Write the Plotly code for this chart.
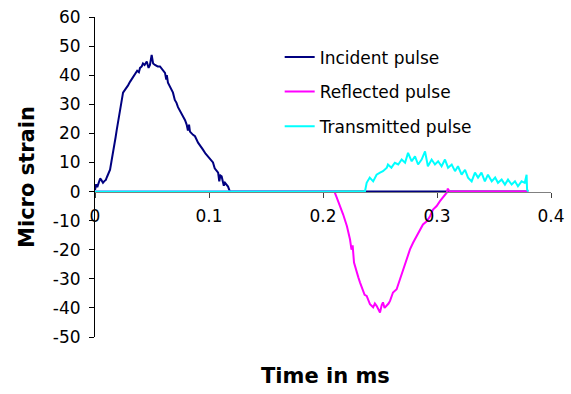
import plotly.graph_objects as go

# ---------------- data ----------------
incident_t = [0.000, 0.001, 0.002, 0.003, 0.0045, 0.0055, 0.007, 0.008, 0.0095, 0.0105,
              0.012, 0.0132, 0.0145, 0.0158, 0.017, 0.018, 0.019, 0.0205, 0.0219, 0.023,
              0.0246, 0.0255, 0.0265, 0.0278, 0.029, 0.0307, 0.032, 0.0335, 0.0351, 0.037,
              0.0385, 0.0395, 0.041, 0.0421, 0.0435, 0.0454, 0.047, 0.0482, 0.0497, 0.051,
              0.0526, 0.055, 0.057, 0.059, 0.0614, 0.0625, 0.063, 0.064, 0.066, 0.0684,
              0.070, 0.0715, 0.0728, 0.075, 0.0772, 0.079, 0.0804, 0.0815, 0.0825, 0.0833,
              0.086, 0.0877, 0.0904, 0.093, 0.0947, 0.097, 0.0991, 0.101, 0.1035, 0.105,
              0.1068, 0.108, 0.109, 0.110, 0.1111, 0.112, 0.113, 0.114, 0.1167, 0.118,
              0.119, 0.380]
incident_v = [0.5, 2.5, 1.5, 3.0, 4.5, 4.0, 3.0, 3.5, 4.0, 5.0,
              6.5, 7.5, 10.5, 13.0, 16.5, 18.5, 21.0, 24.5, 28.0, 30.5,
              34.0, 34.5, 35.0, 35.6, 36.5, 37.7, 38.5, 39.0, 40.0, 41.5,
              41.0, 42.5, 43.0, 44.0, 43.5, 44.7, 42.5, 43.5, 47.0, 44.0,
              43.5, 43.0, 43.0, 42.0, 40.8, 38.5, 40.0, 37.4, 36.0, 34.0,
              31.5, 30.5, 29.0, 27.5, 25.7, 24.5, 23.0, 21.0, 23.0, 20.6,
              19.5, 19.0, 16.8, 15.5, 14.4, 13.0, 12.0, 11.0, 10.0, 8.0,
              7.0, 6.5, 3.5, 5.5, 5.2, 4.0, 2.0, 3.0, 1.7, 0.3,
              0.0, 0.0]

reflected_t = [0.000, 0.210, 0.212, 0.215, 0.2177, 0.221, 0.2237, 0.225, 0.226, 0.2272,
               0.2295, 0.231, 0.2325, 0.235, 0.2365, 0.2383, 0.240, 0.2412, 0.244, 0.2455,
               0.247, 0.2485, 0.250, 0.2515, 0.2526, 0.254, 0.2559, 0.2575, 0.2588, 0.2614,
               0.2646, 0.2675, 0.2702, 0.2734, 0.2763, 0.279, 0.2822, 0.285, 0.2877, 0.291,
               0.2939, 0.2965, 0.2997, 0.3026, 0.3053, 0.3085, 0.3095, 0.3105, 0.311, 0.380]
reflected_v = [0.0, 0.0, -2.0, -5.0, -7.9, -11.9, -16.5, -20.0, -18.5, -24.4,
               -27.9, -29.5, -31.3, -34.2, -35.5, -35.9, -37.5, -38.7, -39.8, -38.5,
               -39.3, -40.5, -41.6, -39.0, -38.1, -40.0, -39.3, -38.5, -37.6, -34.7,
               -33.6, -30.2, -26.7, -23.3, -19.9, -17.6, -15.3, -13.0, -11.3, -10.2,
               -8.5, -6.2, -5.0, -3.3, -2.1, -0.4, 1.0, 0.5, 0.0, 0.0]

transmitted_t = [0.000, 0.2368, 0.2383, 0.241, 0.244, 0.247, 0.250, 0.2526, 0.256, 0.257,
                 0.260, 0.263, 0.266, 0.269, 0.272, 0.2746, 0.2778, 0.2807, 0.2834, 0.2865,
                 0.2895, 0.292, 0.2953, 0.2982, 0.301, 0.304, 0.307, 0.3097, 0.3129, 0.3158,
                 0.3184, 0.3216, 0.3246, 0.3272, 0.3304, 0.3333, 0.336, 0.339, 0.342, 0.3447,
                 0.348, 0.351, 0.3535, 0.3567, 0.3596, 0.3623, 0.3655, 0.3684, 0.371, 0.3742,
                 0.377, 0.3786, 0.379, 0.380]
transmitted_v = [0.0, 0.0, 3.0, 4.8, 3.5, 5.8, 6.5, 7.0, 8.2, 9.3,
                 8.2, 9.9, 9.3, 11.0, 9.9, 13.3, 10.4, 12.1, 9.3, 11.0,
                 13.8, 8.7, 11.0, 9.3, 10.4, 8.7, 11.0, 8.2, 9.3, 7.0,
                 8.7, 5.8, 7.5, 4.8, 3.5, 6.5, 4.8, 6.5, 3.5, 5.8,
                 3.5, 4.8, 3.0, 4.1, 2.4, 4.1, 2.4, 3.5, 1.8, 3.5,
                 3.0, 5.8, 0.7, 0.0]

series_names = ["Incident pulse", "Reflected pulse", "Transmitted pulse"]
series_colors = ["#000080", "#FF00FF", "#00FFFF"]

x_ticks = [0, 0.1, 0.2, 0.3, 0.4]
x_tick_labels = ["0", "0.1", "0.2", "0.3", "0.4"]
y_ticks = [-50, -40, -30, -20, -10, 0, 10, 20, 30, 40, 50, 60]
y_tick_labels = ["-50", "-40", "-30", "-20", "-10", "0", "10", "20", "30", "40", "50", "60"]

FONT = "DejaVu Sans"

fig = go.Figure()
for name, color, t, v in zip(series_names, series_colors,
                             [incident_t, reflected_t, transmitted_t],
                             [incident_v, reflected_v, transmitted_v]):
    fig.add_trace(go.Scatter(x=t, y=v, mode="lines", name=name, legendgroup=name,
                             line=dict(color=color, width=2)))

y_min, y_max = -50, 60
zero_pos = (0 - y_min) / (y_max - y_min)

fig.update_layout(
    width=571, height=394,
    margin=dict(l=95, r=20, t=17, b=57, autoexpand=False),
    paper_bgcolor="white", plot_bgcolor="white",
    font=dict(family=FONT, size=17, color="black"),
    showlegend=True,
    legend=dict(x=0.405, y=0.93, xanchor="left", yanchor="top",
                bgcolor="rgba(0,0,0,0)", font=dict(size=17, family=FONT),
                tracegroupgap=9.5, traceorder="grouped"),
    xaxis=dict(range=[0, 0.4], tickvals=x_ticks, ticktext=x_tick_labels,
               anchor="free", position=zero_pos, automargin=False,
               showline=True, linecolor="#808080", linewidth=1,
               ticks="outside", ticklen=5, tickcolor="#404040",
               showgrid=False, zeroline=False, ticklabelstandoff=4,
               tickfont=dict(size=17, family=FONT)),
    yaxis=dict(range=[y_min, y_max], tickvals=y_ticks, ticktext=y_tick_labels,
               automargin=False,
               showline=True, linecolor="black", linewidth=1,
               ticks="outside", ticklen=5, tickcolor="black",
               showgrid=False, zeroline=False, ticklabelstandoff=5,
               tickfont=dict(size=17, family=FONT),
               title=dict(text="<b>Micro strain</b>", font=dict(size=21, family=FONT),
                          standoff=12)),
    annotations=[dict(text="<b>Time in ms</b>", xref="paper", yref="paper",
                      x=0.506, y=-0.122, xanchor="center", yanchor="middle",
                      showarrow=False, font=dict(size=21, family=FONT))],
)

fig.write_html("out.html")
